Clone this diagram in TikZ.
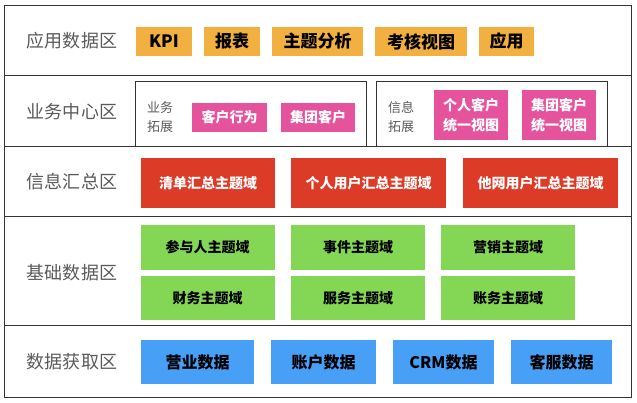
\documentclass[tikz,border=0pt]{standalone}
\usepackage{fontspec}
\setmainfont{Noto Sans CJK SC}
\definecolor{appcol}{HTML}{F2B040}
\definecolor{bizcol}{HTML}{E6539D}
\definecolor{sumcol}{HTML}{DC3B27}
\definecolor{basecol}{HTML}{84D655}
\definecolor{srccol}{HTML}{479FF6}
\definecolor{zonegray}{HTML}{5A5A5A}
\definecolor{framecol}{HTML}{333333}

\begin{document}
\begin{tikzpicture}[x=1pt,y=-1pt,line width=0.9pt,
  every node/.style={inner sep=0pt,align=center},
  zone/.style={text=zonegray,font=\fontsize{18}{18}\selectfont},
  sub/.style={text=zonegray,font=\fontsize{13}{19}\selectfont},
  cell/.style={font=\bfseries\fontsize{14}{20}\selectfont},
  appbox/.style={cell,fill=appcol,minimum height=29,font=\bfseries\fontsize{17}{17}\selectfont},
  bizbox/.style={cell,fill=bizcol,text=white},
  sumbox/.style={cell,fill=sumcol,text=white,minimum height=50},
  basebox/.style={cell,fill=basecol,minimum width=134},
  srcbox/.style={cell,fill=srccol,minimum height=44,font=\bfseries\fontsize{16}{16}\selectfont}]
  \useasboundingbox (0,0) rectangle (637,403);

  % frame and rows
  \draw[framecol] (4,5) rectangle (631,397);
  \foreach \y in {75,146,216,325}
    \draw[framecol] (4,\y) -- (631,\y);
  \draw[framecol] (135,146) |- (366,81) -- (366,146);
  \draw[framecol] (376,146) |- (607,81) -- (607,146);

  % zone labels
  \foreach \y/\t [count=\i] in {41/应用数据区,112/业务中心区,182/信息汇总区,273/基础数据区,362/数据获取区}
    \node[zone] (Z\i) at (72,\y) {\t};

  % application
  \foreach \c/\w/\t [count=\i] in {164/56/KPI,232/56/报表,317.5/91/主题分析,421/92/考核视图,506.5/55/应用}
    \node[appbox,minimum width=\w] (A\i) at (\c,41.5) {\t};

  % business centre
  \node[sub] (B0) at (160,117.5) {业务\\拓展};
  \node[bizbox,minimum width=75,minimum height=29] (B1) at (229.5,117.5) {客户行为};
  \node[bizbox,minimum width=74,minimum height=29] (B2) at (318,117.5) {集团客户};
  \node[sub] (C0) at (401,117.5) {信息\\拓展};
  \node[bizbox,minimum width=74,minimum height=50] (C1) at (471,115) {个人客户\\统一视图};
  \node[bizbox,minimum width=74,minimum height=50] (C2) at (559,115) {集团客户\\统一视图};

  % summary
  \foreach \c/\w/\t [count=\i] in {208/134/清单汇总主题域,368.5/155/个人用户汇总主题域,540.5/155/他网用户汇总主题域}
    \node[sumbox,minimum width=\w] (S\i) at (\c,183) {\t};

  % base data
  \foreach \c/\t [count=\i] in {207.5/参与人主题域,358/事件主题域,508/营销主题域}
    \node[basebox,minimum height=45] (D\i) at (\c,247.5) {\t};
  \foreach \c/\t [count=\i] in {207.5/财务主题域,358/服务主题域,508/账务主题域}
    \node[basebox,minimum height=44] (E\i) at (\c,298) {\t};

  % source data
  \foreach \c/\w/\t [count=\i] in {197.5/113/营业数据,323.5/105/账户数据,443.5/101/CRM数据,561.5/101/客服数据}
    \node[srcbox,minimum width=\w] (F\i) at (\c,362) {\t};
\end{tikzpicture}
\end{document}
